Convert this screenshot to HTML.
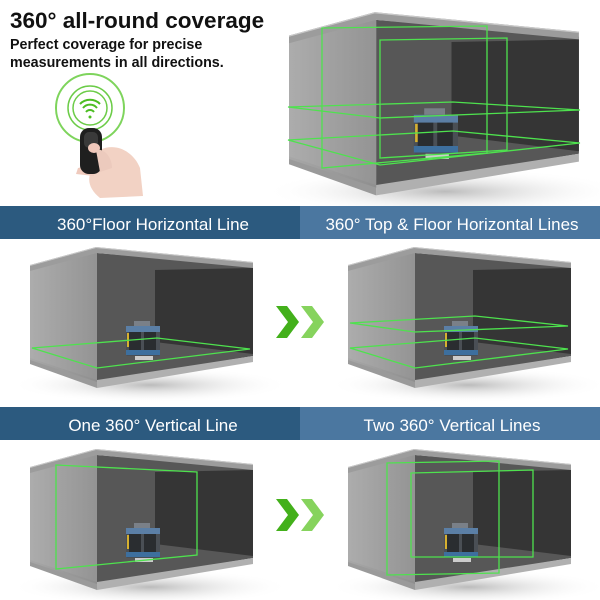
<!DOCTYPE html>
<html><head><meta charset="utf-8"><style>
body{margin:0;background:#fff}
svg{display:block}
text{font-family:"Liberation Sans",sans-serif}
</style></head><body>
<svg width="600" height="600" viewBox="0 0 600 600" xmlns="http://www.w3.org/2000/svg">
<defs>
<radialGradient id="sh" cx="0.5" cy="0.5" r="0.5"><stop offset="0" stop-color="#bbb"/><stop offset="1" stop-color="#fff" stop-opacity="0"/></radialGradient>
<linearGradient id="lf" x1="0" x2="1"><stop offset="0" stop-color="#a8a8a8"/><stop offset="1" stop-color="#8e8e8e"/></linearGradient>
<g id="box">
<ellipse cx="150" cy="385" rx="140" ry="18" fill="url(#sh)"/>
<polygon points="97,253 253,266 253,356 97,382" fill="#575757"/>
<polygon points="155,270 253,268 253,354 155,342" fill="#353535"/>
<polygon points="97,380 253,356 253,362 97,388" fill="#b0b0b0"/>
<polygon points="30,358 97,380 97,388 30,364" fill="#9a9a9a"/>
<polygon points="30,270 97,252 97,382 30,360" fill="url(#lf)" opacity="0.95"/>
<polygon points="30,265 96,247 253,262 253,268 97,253 30,271" fill="#9c9c9c"/>
<polygon points="30,265 96,247 253,262 253,263 96,248 30,266" fill="#c8c8c8"/>
<g>
<rect x="126" y="326" width="34" height="30" rx="2" fill="#4a4f55"/>
<rect x="129" y="329" width="12" height="22" fill="#2a2d30"/>
<rect x="144" y="329" width="12" height="22" fill="#2a2d30"/>
<rect x="126" y="326" width="34" height="6" fill="#5b7fa6"/>
<rect x="126" y="350" width="34" height="5" fill="#3d6f9e"/>
<rect x="134" y="321" width="16" height="5" fill="#7a8088"/>
<rect x="127" y="333" width="2" height="14" fill="#d6b030"/>
<rect x="135" y="356" width="18" height="4" fill="#ccc"/>
</g>
</g>
</defs>

<text x="10" y="28" font-size="22.5" fill="#111" font-weight="bold">360° all-round coverage</text>
<text x="10" y="49" font-size="14.3" fill="#111" font-weight="bold">Perfect coverage for precise</text>
<text x="10" y="67" font-size="14.3" fill="#111" font-weight="bold">measurements in all directions.</text>

<!-- remote -->
<circle cx="90" cy="108" r="34" fill="none" stroke="#7ed45c" stroke-width="2"/>
<circle cx="90" cy="108" r="22" fill="none" stroke="#6ccc48" stroke-width="1.5"/>
<circle cx="90" cy="108" r="17" fill="none" stroke="#6ccc48" stroke-width="1.5"/>
<path d="M80,104 a14,14 0 0 1 20,0 M83,108 a9,9 0 0 1 14,0 M86,112 a5,5 0 0 1 8,0" fill="none" stroke="#4cbd22" stroke-width="2"/>
<circle cx="90" cy="117" r="1.5" fill="#4cbd22"/>
<path d="M100,150 C116,142 134,152 140,168 L143,196 L100,198 C90,190 86,180 92,170 Z" fill="#f2d2c4"/>
<path d="M92,165 L78,168 L76,174 L94,176 Z" fill="#efcabd"/>
<rect x="80" y="128" width="22" height="46" rx="9" fill="#1f1f1f"/>
<rect x="84" y="132" width="14" height="16" rx="5" fill="#3a3a3a"/>
<ellipse cx="94" cy="148" rx="6" ry="5" fill="#f0c8bb"/>
<path d="M96,150 C105,148 112,158 112,168 L100,172 Z" fill="#eccabd"/>

<!-- top box -->
<use href="#box" transform="translate(250,-309) scale(1.3)"/>
<g fill="none" stroke="#4ee24e" stroke-width="1.3">
<polygon points="322,28 487,26 487,153 322,168"/>
<polygon points="380,40 507,38 507,150 380,158"/>
<polygon points="288,107 453,102 580,110 380,118"/>
<polygon points="288,140 453,131 580,143 380,165"/>
</g>

<!-- banners -->
<rect x="0" y="206" width="300" height="33" fill="#2c5a7f"/>
<rect x="300" y="206" width="300" height="33" fill="#4b77a0"/>
<text x="153" y="230" font-size="17" fill="#fff" text-anchor="middle">360°Floor Horizontal Line</text>
<text x="452" y="230" font-size="17" fill="#fff" text-anchor="middle">360° Top &amp; Floor Horizontal Lines</text>

<rect x="0" y="407" width="300" height="33" fill="#2c5a7f"/>
<rect x="300" y="407" width="300" height="33" fill="#4b77a0"/>
<text x="153" y="431" font-size="17" fill="#fff" text-anchor="middle">One 360° Vertical Line</text>
<text x="452" y="431" font-size="17" fill="#fff" text-anchor="middle">Two 360° Vertical Lines</text>

<!-- mid left -->
<use href="#box"/>
<polygon points="32,348 157,338 250,349 97,368" fill="none" stroke="#4ee24e" stroke-width="1.3"/>

<!-- mid right -->
<use href="#box" transform="translate(318,0)"/>
<g fill="none" stroke="#4ee24e" stroke-width="1.3" transform="translate(318,0)">
<polygon points="32,323 157,316 250,326 97,332"/>
<polygon points="32,348 157,338 250,349 97,368"/>
</g>

<!-- chevrons -->
<g>
<polygon points="276,306 287,306 299,322 287,338 276,338 288,322" fill="#43b01b"/>
<polygon points="301,306 312,306 324,322 312,338 301,338 313,322" fill="#86d35d"/>
<polygon points="276,499 287,499 299,515 287,531 276,531 288,515" fill="#43b01b"/>
<polygon points="301,499 312,499 324,515 312,531 301,531 313,515" fill="#86d35d"/>
</g>

<!-- bottom left -->
<use href="#box" transform="translate(0,202)"/>
<polygon points="56,465 197,472 197,555 56,569" fill="none" stroke="#4ee24e" stroke-width="1.3"/>

<!-- bottom right -->
<use href="#box" transform="translate(318,202)"/>
<g fill="none" stroke="#4ee24e" stroke-width="1.3">
<polygon points="411,473 533,470 533,557 411,557"/>
<polygon points="387,463 499,461 499,573 387,575"/>
</g>
</svg>
</body></html>
